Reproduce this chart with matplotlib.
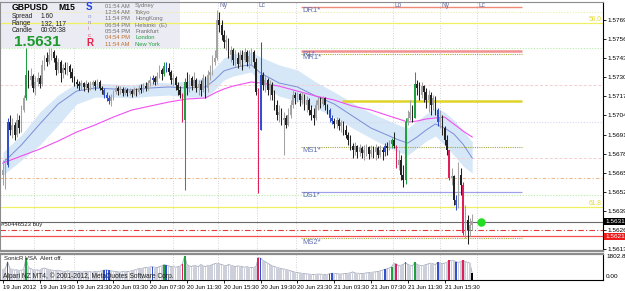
import numpy as np
import matplotlib
matplotlib.use('Agg')
import matplotlib.pyplot as plt
import matplotlib.transforms as mtrans
from matplotlib.patches import Rectangle

plt.rcParams['font.family'] = ['Liberation Sans', 'DejaVu Sans']

W, H = 625, 291

# GBPUSD M15, prices given in points above 1.50000
open0 = 6635
close_pts = [
    6669, 6703, 6995, 6941, 6975, 6907, 7009, 6954, 7077, 7159,
    7315, 7281, 7309, 7227, 7268, 7295, 7254, 7384, 7431, 7404,
    7452, 7472, 7431, 7350, 7404, 7329, 7363, 7350, 7377, 7336,
    7295, 7268, 7254, 7240, 7261, 7234, 7254, 7227, 7247, 7268,
    7240, 7268, 7227, 7213, 7179, 7159, 7138, 7166, 7200, 7227,
    7206, 7220, 7193, 7213, 7193, 7206, 7186, 7213, 7200, 7227,
    7213, 7240, 7227, 7261, 7281, 7295, 7268, 7309, 7350, 7322,
    7377, 7363, 7336, 7281, 7295, 7247, 7213, 7179, 7009, 7268,
    7227, 7295, 7240, 7281, 7227, 7254, 7213, 7295, 7227, 7315,
    7336, 7404, 7431, 7690, 7656, 7588, 7540, 7554, 7452, 7486,
    7418, 7431, 7390, 7452, 7418, 7472, 7404, 7445, 7472, 7404,
    7200, 6941, 7315, 7247, 7281, 7213, 7247, 7179, 7111, 7043,
    7063, 7009, 7023, 6975, 7043, 7111, 7179, 7159, 7186, 7145,
    7172, 7111, 7145, 7077, 7043, 7023, 7111, 7145, 7118, 7159,
    7111, 7077, 7023, 7002, 6982, 7009, 6968, 6995, 6941, 6907,
    6873, 6832, 6805, 6832, 6791, 6818, 6784, 6805, 6825, 6777,
    6805, 6791, 6818, 6771, 6805, 6791, 6832, 6818, 6845, 6873,
    6832, 6703, 6737, 6635, 6600, 6995, 7023, 7063, 7023, 7254,
    7227, 7179, 7240, 7200, 7145, 7179, 7111, 7159, 7077, 6995,
    7023, 6954, 6873, 6805, 6614, 6628, 6464, 6430, 6635, 6566,
    6239, 6328, 6260, 6294, 6321]
high_pts = [
    6737, 6750, 7023, 7043, 7023, 6995, 7057, 7043, 7111, 7179,
    7499, 7350, 7363, 7322, 7309, 7336, 7315, 7418, 7452, 7472,
    7499, 7499, 7486, 7452, 7431, 7418, 7390, 7404, 7404, 7390,
    7363, 7309, 7288, 7274, 7281, 7268, 7281, 7268, 7274, 7281,
    7281, 7288, 7281, 7240, 7227, 7200, 7179, 7186, 7213, 7247,
    7240, 7240, 7234, 7234, 7227, 7227, 7220, 7234, 7227, 7247,
    7254, 7261, 7268, 7281, 7309, 7315, 7309, 7336, 7384, 7363,
    7404, 7404, 7397, 7350, 7322, 7309, 7268, 7240, 7193, 7295,
    7336, 7322, 7309, 7336, 7295, 7281, 7281, 7322, 7309, 7350,
    7384, 7452, 7486, 7758, 7744, 7690, 7622, 7588, 7567, 7513,
    7499, 7486, 7472, 7486, 7486, 7499, 7486, 7486, 7499, 7486,
    7431, 7227, 7540, 7336, 7315, 7295, 7281, 7268, 7213, 7145,
    7111, 7091, 7063, 7043, 7091, 7145, 7213, 7200, 7200, 7193,
    7200, 7186, 7172, 7159, 7111, 7091, 7145, 7166, 7166, 7172,
    7166, 7118, 7091, 7043, 7023, 7029, 7023, 7009, 7002, 6975,
    6927, 6907, 6852, 6859, 6839, 6845, 6832, 6839, 6845, 6832,
    6839, 6832, 6845, 6832, 6839, 6825, 6852, 6859, 6873, 6886,
    6927, 6839, 6805, 6771, 6703, 7023, 7077, 7145, 7111, 7336,
    7281, 7268, 7268, 7247, 7227, 7213, 7200, 7179, 7172, 7091,
    7077, 7043, 6968, 6907, 6805, 6682, 6635, 6498, 6723, 6682,
    6587, 6430, 6362, 6341, 6369]
low_pts = [
    6566, 6539, 6689, 6907, 6886, 6873, 6893, 6920, 6927, 7063,
    7145, 7227, 7247, 7200, 7179, 7240, 7227, 7240, 7350, 7377,
    7390, 7418, 7404, 7315, 7329, 7268, 7295, 7322, 7315, 7295,
    7268, 7240, 7227, 7213, 7213, 7206, 7220, 7200, 7213, 7220,
    7213, 7227, 7213, 7186, 7159, 7138, 7118, 7104, 7145, 7186,
    7179, 7186, 7172, 7179, 7172, 7179, 7166, 7179, 7172, 7186,
    7193, 7200, 7206, 7213, 7240, 7254, 7247, 7254, 7295, 7281,
    7309, 7336, 7315, 7254, 7240, 7213, 7179, 7159, 6995, 6532,
    7179, 7200, 7213, 7227, 7200, 7179, 7172, 7200, 7159, 7200,
    7281, 7315, 7384, 7418, 7608, 7554, 7499, 7486, 7431, 7404,
    7384, 7377, 7363, 7377, 7350, 7404, 7377, 7363, 7384, 7363,
    7179, 6512, 6941, 7213, 7200, 7179, 7145, 7145, 7077, 7009,
    6995, 6975, 6771, 6954, 6968, 7023, 7091, 7118, 7131, 7104,
    7118, 7077, 7063, 7043, 7009, 6975, 7009, 7077, 7091, 7104,
    7077, 7050, 6995, 6982, 6954, 6954, 6941, 6927, 6907, 6886,
    6839, 6805, 6750, 6771, 6750, 6764, 6750, 6737, 6764, 6743,
    6757, 6750, 6737, 6750, 6757, 6737, 6764, 6771, 6805, 6818,
    6818, 6682, 6669, 6600, 6553, 6573, 6975, 7009, 6995, 7023,
    7179, 7145, 7159, 7131, 7091, 7063, 7043, 7077, 7043, 6968,
    6954, 6907, 6839, 6771, 6600, 6566, 6430, 6396, 6410, 6498,
    6226, 6205, 6164, 6219, 6260]
volume = [
    750, 800, 1300, 800, 750, 700, 720, 680, 700, 750,
    1600, 900, 800, 750, 700, 720, 680, 800, 850, 780,
    760, 700, 680, 650, 700, 640, 620, 600, 650, 620,
    600, 580, 620, 600, 560, 580, 600, 620, 580, 560,
    600, 580, 620, 640, 700, 720, 680, 650, 620, 600,
    580, 560, 600, 620, 600, 620, 650, 700, 750, 800,
    820, 850, 880, 900, 920, 950, 900, 880, 950, 1000,
    1100, 1050, 1000, 950, 980, 900, 950, 980, 1150, 1700,
    1100, 1000, 950, 1050, 1000, 950, 1100, 1000, 950, 1050,
    1000, 1100, 1150, 1200, 1150, 1100, 1050, 1000, 1100, 1050,
    1000, 950, 1000, 980, 950, 900, 950, 900, 880, 900,
    950, 1600, 1550, 1400, 1300, 1200, 1100, 1000, 950, 900,
    850, 800, 780, 750, 700, 650, 600, 550, 520, 500,
    480, 450, 430, 420, 400, 380, 400, 420, 410, 400,
    390, 400, 450, 480, 470, 450, 430, 420, 440, 460,
    480, 500, 580, 500, 480, 470, 460, 480, 500, 520,
    540, 560, 580, 600, 650, 700, 750, 800, 850, 950,
    1200, 1150, 1000, 1050, 1100, 1250, 1100, 1050, 1000, 1250,
    1100, 1050, 1000, 1050, 1100, 1150, 1200, 1150, 1100, 1250,
    1200, 1150, 1200, 1250, 1400, 1350, 1400, 1300, 1250, 1300,
    1400, 1300, 1250, 1200, 500]

# VSA highlighted bars
blue_bars = [2, 44, 45, 46, 65, 71, 112, 142, 143, 166, 189, 197]
green_bars = [10, 70, 79, 169, 175, 179]
red_bars = [78, 111, 171, 194, 200]

# SonicR dragon (EMA34 high/close/low) and EMA89, read every few bars
ind_bars = [0, 8, 16, 24, 32, 40, 48, 56, 64, 72, 80, 88, 92, 96, 100, 104,
            108, 112, 120, 128, 136, 144, 152, 160, 168, 172, 176, 180, 184,
            188, 192, 196, 200, 204]
ema34_pts = [6716, 6839, 6982, 7118, 7206, 7227, 7220, 7213, 7227, 7234,
             7227, 7234, 7281, 7343, 7363, 7377, 7384, 7329, 7261, 7234,
             7172, 7118, 7036, 6954, 6900, 6873, 6852, 6893, 6941, 6982,
             6954, 6914, 6845, 6750]
dragon_hi_pts = [6791, 6907, 7063, 7179, 7261, 7261, 7254, 7247, 7268, 7261,
                 7274, 7295, 7363, 7431, 7458, 7472, 7472, 7438, 7384, 7350,
                 7268, 7200, 7125, 7057, 7002, 6975, 6954, 7002, 7050, 7091,
                 7063, 7009, 6941, 6859]
dragon_lo_pts = [6634, 6736, 6839, 6975, 7118, 7165, 7165, 7159, 7172, 7179,
                 7165, 7165, 7213, 7281, 7308, 7322, 7336, 7254, 7172, 7138,
                 7091, 7029, 6954, 6886, 6818, 6791, 6770, 6818, 6866, 6900,
                 6839, 6770, 6696, 6648]
ema89_pts = [6716, 6764, 6811, 6866, 6927, 6975, 7029, 7077, 7104, 7131,
             7152, 7159, 7193, 7220, 7240, 7254, 7268, 7261, 7240, 7206,
             7172, 7145, 7104, 7077, 7036, 7016, 6995, 7002, 7016, 7023,
             7029, 6982, 6934, 6893]

time_bars = [0, 16, 32, 48, 64, 80, 96, 112, 128, 144, 160, 176, 192]
time_labels = ['19 Jun 2012', '19 Jun 19:30', '19 Jun 23:30', '20 Jun 03:30',
               '20 Jun 07:30', '20 Jun 11:30', '20 Jun 15:30', '20 Jun 19:30',
               '20 Jun 23:30', '21 Jun 03:30', '21 Jun 07:30', '21 Jun 11:30',
               '21 Jun 15:30']
price_ticks = [1.57690, 1.57560, 1.57430, 1.57300, 1.57170, 1.57040, 1.56910,
               1.56780, 1.56650, 1.56520, 1.56390, 1.56260, 1.56130]

session_bars = [13.5, 30.9, 74, 93.5, 110.5, 127.4, 169.5, 190, 206]
session_names = ['', '', '', 'Ny', 'Lc', '', 'Lo', 'Ny', 'Lc']

# levels
DR1, R1, MR1 = 1.57779, 1.57482, 1.57458
MS1, DS1, MS2 = 1.56825, 1.56519, 1.56205
fib50, fib618 = 1.57670, 1.56417
zone_top = 1.57138
bid, order_sl, ask_line = 1.56317, 1.56260, 1.56217
top_dots, green_hi, green_lo = 1.57744, 1.57499, 1.56498
pink1, pink2, lav, orange = 1.57247, 1.56750, 1.56995, 1.56614
piv_start, piv_end, zone_start = 129.6, 225.7, 147.4


def to_price(pts):
    return 1.5 + np.asarray(pts, dtype=float) / 1e5


c = to_price(close_pts)
o = to_price(np.r_[open0, close_pts[:-1]])
hi = np.maximum(to_price(high_pts), np.maximum(o, c))
lo = np.minimum(to_price(low_pts), np.minimum(o, c))
n = len(c)
idx = np.arange(n)

cols = ['#a4a4a4' if c[i] >= o[i] else '#222222' for i in range(n)]
vcols = ['#cdd0da'] * n
for i in blue_bars:
    cols[i] = vcols[i] = '#3050d0'
for i in green_bars:
    cols[i] = vcols[i] = '#20a040'
for i in red_bars:
    cols[i] = vcols[i] = '#e0205a'
vcols[-1] = '#000000'

fig = plt.figure(figsize=(W / 100, H / 100), dpi=100)
fig.patch.set_facecolor('white')


def fx(px):
    return px / W


def fy(py):
    return 1 - py / H


ax = fig.add_axes([0, fy(251), fx(603), (251 - 2) / H])
vp = fig.add_axes([0, fy(280), fx(603), (280 - 254) / H])
xl = (-3 / 2.3, 600 / 2.3)
for a in (ax, vp):
    a.set_xlim(*xl)
    a.set_facecolor('white')
ax.set_ylim(1.561169, 1.578126)

# session lines
for b, name in zip(session_bars, session_names):
    ax.axvline(b, color='#c4c4c4', ls=(0, (1, 2)), lw=0.6, zorder=1)
    vp.axvline(b, color='#c4c4c4', ls=(0, (1, 2)), lw=0.6, zorder=1)
    if name:
        ax.text(b + 0.6, 1.57790, name, fontsize=4.8, color='#6870a0',
                va='center', ha='left', zorder=6)

# full width lines
ax.axhline(top_dots, color='#eeeeaa', ls=(0, (1, 1.5)), lw=0.8, zorder=2)
ax.axhline(fib50, color='#f0f060', lw=0.9, zorder=2)
ax.axhline(green_hi, color='#b4eca4', ls=(0, (1, 1.5)), lw=0.8, zorder=2)
ax.axhline(pink1, color='#f4cfcf', ls=(0, (3, 2)), lw=0.7, zorder=2)
ax.axhline(lav, color='#d6d6f2', ls=(0, (1, 1.5)), lw=0.8, zorder=2)
ax.axhline(pink2, color='#f4cfcf', ls=(0, (3, 2)), lw=0.7, zorder=2)
ax.axhline(orange, color='#f0b888', ls=(0, (3, 2, 1, 2)), lw=0.8, zorder=2)
ax.axhline(green_lo, color='#b4eca4', ls=(0, (1, 1.5)), lw=0.8, zorder=2)
ax.axhline(fib618, color='#f0f060', lw=0.9, zorder=2)
ax.axhline(bid, color='#6a6a6a', lw=0.8, zorder=2)
ax.axhline(order_sl, color='#e03c3c', ls=(0, (5, 2, 1, 2)), lw=0.8, zorder=2)
ax.axhline(ask_line, color='#f05050', lw=0.9, zorder=2)

# pivot lines
ax.hlines(DR1, piv_start, piv_end, color='#f08878', lw=1.0, zorder=2)
ax.hlines(R1, piv_start, piv_end, color='#f09090', lw=1.8, zorder=2)
ax.hlines(MR1, piv_start, piv_end, color='#a8a840', ls=(0, (1, 1)), lw=0.8, zorder=2)
ax.hlines(zone_top, zone_start, piv_end, color='#e0d428', lw=1.8, zorder=2)
ax.hlines(MS1, piv_start, piv_end, color='#a8a840', ls=(0, (1, 1)), lw=0.8, zorder=2)
ax.hlines(DS1, piv_start, piv_end, color='#a0a0e8', lw=0.9, zorder=2)
ax.hlines(MS2, piv_start, piv_end, color='#a8a840', ls=(0, (1, 1)), lw=0.8, zorder=2)
pc = '#6070b0'
for lvl, name, dy in [(DR1, 'DR1*', 0.00003), (R1, 'R1*', 0.00002),
                      (MR1, 'MR1*', 0.00001), (MS1, 'MS1*', 0.00003),
                      (DS1, 'DS1*', 0.00003), (MS2, 'MS2*', 0.00003)]:
    ax.text(piv_start + 0.5, lvl - dy, name, fontsize=5.5, color=pc,
            va='top', zorder=6)

blend = mtrans.blended_transform_factory(ax.transAxes, ax.transData)
ax.text(0.997, fib50, '50.0', transform=blend, ha='right', va='bottom',
        fontsize=4.8, color='#e4dc30', zorder=6)
ax.text(0.997, fib618, '61.8', transform=blend, ha='right', va='bottom',
        fontsize=4.8, color='#e4dc30', zorder=6)
ax.text(-0.8, bid - 0.00003, '#50446523 buy', fontsize=4.3, color='#202020',
        va='top', zorder=6)
ax.scatter([207.8], [bid], s=26, color='#22dd22', zorder=7)

# dragon band and moving averages
ax.fill_between(ind_bars, to_price(dragon_hi_pts), to_price(dragon_lo_pts),
                color='#d6e7f8', lw=0, zorder=1.5)
ax.plot(ind_bars, to_price(ema34_pts), color='#7b8dd6', lw=0.7, zorder=3)
ax.plot(ind_bars, to_price(ema89_pts), color='#f050f0', lw=0.8, zorder=3)

# candles
ax.vlines(idx, lo, hi, colors=cols, lw=0.75, zorder=4)
ax.bar(idx, np.maximum(np.abs(c - o), 0.000012), bottom=np.minimum(o, c),
       width=0.66, color=cols, lw=0, zorder=4)

# right price axis
ax.yaxis.tick_right()
ax.set_yticks(price_ticks)
ax.set_yticklabels(['%.5f' % p for p in price_ticks])
ax.tick_params(axis='y', length=2, width=0.6, pad=1.5, labelsize=4.6, colors='black')
ax.set_xticks([])
for t, fc in ((bid, 'black'), (ask_line, '#ee1c1c')):
    ax.text(1.004, t, '%.5f' % t, transform=blend, ha='left', va='center',
            fontsize=4.6, color='white', zorder=8, clip_on=False,
            bbox=dict(boxstyle='square,pad=0.15', fc=fc, ec='none'))
for s in ('left', 'top'):
    ax.spines[s].set_color('#8c8c8c')
ax.spines['right'].set_color('black')
ax.spines['right'].set_linewidth(0.8)
ax.spines['bottom'].set_color('#8c8c8c')
ax.spines['bottom'].set_linewidth(1.6)

# info box
ax.add_patch(Rectangle((0, fy(48)), fx(180), 48 / H, transform=fig.transFigure,
                       facecolor='#ebebf3', edgecolor='none', zorder=1.8,
                       clip_on=False))
fig.text(fx(12), fy(7), 'GBPUSD', fontsize=6.2, fontweight='bold', va='center')
fig.text(fx(58), fy(7), 'M15', fontsize=6.2, fontweight='bold', va='center')
for k, (lab, val) in enumerate([('Spread', '1.60'), ('Range', '132, 117'),
                                ('Candle', '00:05:38')]):
    fig.text(fx(12), fy(16 + 7.5 * k), lab, fontsize=4.8, va='center', color='#202020')
    fig.text(fx(41), fy(16 + 7.5 * k), val, fontsize=4.8, va='center', color='#202020')
fig.text(fx(14), fy(42), '1.5631', fontsize=11, fontweight='bold',
         color='#1c9a2c', va='center')
fig.text(fx(86), fy(7), 'S', fontsize=7, fontweight='bold', color='#2040e0', va='center')
for ch, yy, cc in [('o', 17, '#8a96c8'), ('n', 23, '#a090b8'),
                   ('i', 29, '#c480a4'), ('c', 35.5, '#e06080')]:
    fig.text(fx(87.5), fy(yy), ch, fontsize=4.5, color=cc, va='center')
fig.text(fx(86), fy(43), 'R', fontsize=7, fontweight='bold', color='#e8204a', va='center')
clock_times = ['01:54 AM', '12:54 AM', '11:54 PM', '06:54 PM', '05:54 PM',
               '04:54 PM', '11:54 AM']
cities = ['Sydney', 'Tokyo', 'HongKong', 'Helsinki  (E)', 'Frankfurt',
          'London', 'New York']
for k in range(7):
    yy = fy(6 + 6.35 * k)
    fig.text(fx(105), yy, clock_times[k], fontsize=4.2, va='center',
             color='#c0702c' if k >= 5 else '#707070')
    fig.text(fx(135), yy, cities[k], fontsize=4.2, va='center',
             color='#20a040' if k >= 5 else '#707070')

# VSA volume panel
vp.bar(idx, volume, width=0.7, color=vcols, lw=0, zorder=3)
vp.plot(idx, volume, color='#a2a8b8', lw=0.6, zorder=2)
vp.set_ylim(0, 1850)
vp.set_yticks([])
vp.set_xticks(time_bars)
vp.set_xticklabels(time_labels, ha='left')
vp.tick_params(axis='x', length=2.5, width=0.6, pad=1.2, labelsize=4.3)
vp.spines['top'].set_color('#8c8c8c')
vp.spines['top'].set_linewidth(1.6)
vp.spines['left'].set_color('#8c8c8c')
vp.spines['right'].set_linewidth(0.8)
vp.spines['bottom'].set_linewidth(0.8)
fig.text(fx(4), fy(258), 'SonicR VSA', fontsize=4.3, va='center', color='#202020')
fig.text(fx(40), fy(258), 'Alert off.', fontsize=4.3, va='center', color='#202020')
fig.text(fx(3), fy(276.5), 'Alpari NZ MT4, \u00a9 2001-2012, MetaQuotes Software Corp.',
         fontsize=4.8, va='center', color='#202020')
fig.text(fx(606), fy(257), '1802.85', fontsize=4.6, va='center')
fig.text(fx(606), fy(277), '0.00', fontsize=4.6, va='center')

fig.savefig('out.png', dpi=100, facecolor='white')
